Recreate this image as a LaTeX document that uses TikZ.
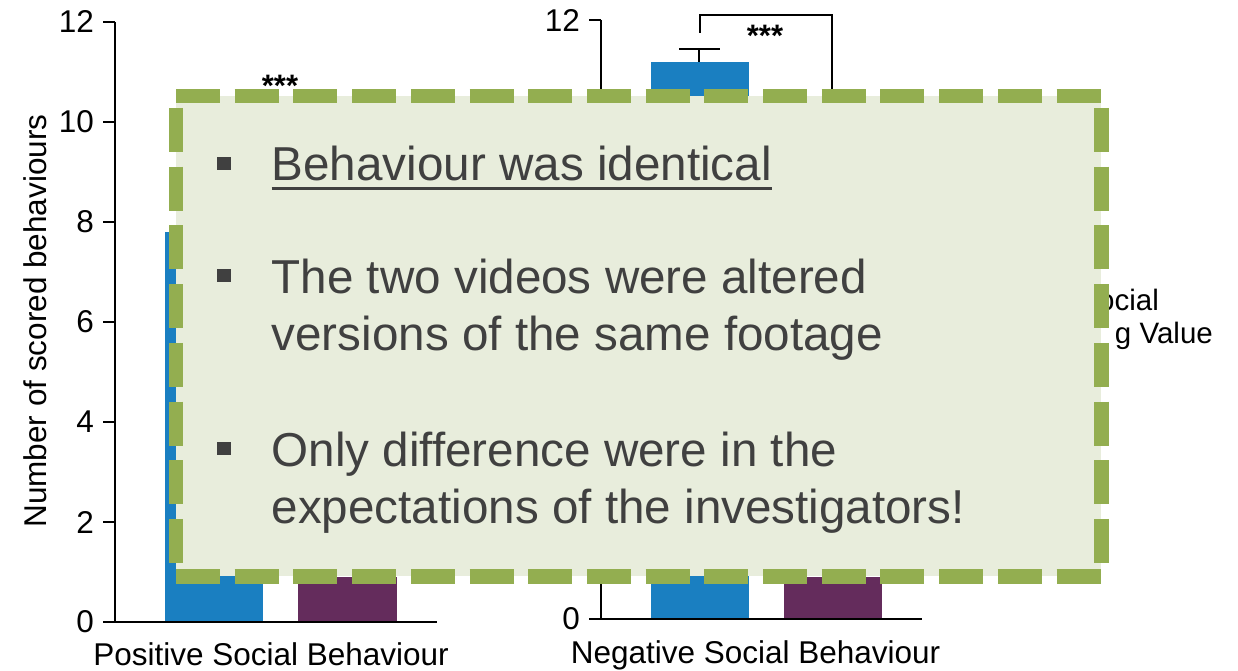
\documentclass[tikz,border=0pt]{standalone}
\usepackage{fontspec}
\setmainfont{Liberation Sans}
\definecolor{barblue}{HTML}{1A7FC1}
\definecolor{barpurple}{HTML}{642C5C}
\definecolor{dashgreen}{HTML}{93AE50}
\definecolor{boxfill}{HTML}{E8EDDC}
\definecolor{txtgray}{HTML}{404040}
\tikzset{
  axisline/.style={line width=2.2pt, black},
  baseaxis/.style={line width=2.8pt, black},
  ticklabel/.style={anchor=east, inner sep=0pt, font=\fontsize{31.5}{38}\selectfont},
  catlabel/.style={anchor=base, inner sep=0pt, font=\fontsize{31.5}{38}\selectfont},
  starlabel/.style={anchor=base, inner sep=0pt, font=\bfseries\fontsize{31}{36}\selectfont},
  legendtext/.style={anchor=base east, inner sep=0pt, font=\fontsize{29.5}{34}\selectfont},
  greenedge/.style={draw=dashgreen, line width=14.5pt, line cap=butt, dash pattern=on 44pt off 14.7pt},
  sideedge/.style={greenedge, dash phase=46.7pt},
  boxtext/.style={anchor=base west, inner sep=0pt, text=txtgray, font=\fontsize{47.6}{57}\selectfont},
  bulletsq/.style={fill=txtgray, minimum width=13.5pt, minimum height=13.5pt, inner sep=0pt}
}
\begin{document}
\begin{tikzpicture}[x=1pt,y=-1pt]
\useasboundingbox (0,0) rectangle (1238,671);
% ---------- left chart ----------
\fill[barblue] (165,622) rectangle (263,232);
\fill[barpurple] (298,622) rectangle (397,577);
\draw[axisline] (115,22) -- (115,622);
\foreach \v/\lab in {12/12,10/10,8/8,6/6,4/4,2/2}{
  \draw[axisline] (103,{622-50*\v}) -- (115,{622-50*\v});
  \node[ticklabel] at (94,{622-50*\v}) {\lab};
}
\node[ticklabel] (l0) at (94,622) {0};
\draw[baseaxis] (103,622) -- (437,622);
\node[rotate=90, inner sep=0pt, font=\fontsize{31.5}{38}\selectfont] (ylab) at (35.5,321) {Number of scored behaviours};
\node[catlabel] (poscat) at (271,665) {Positive Social Behaviour};
\node[starlabel] (starL) at (280,97) {***};
% ---------- right chart ----------
\fill[barblue] (651,619) rectangle (749,62);
\fill[barpurple] (784,619) rectangle (882,577);
\draw[axisline] (601,20) -- (601,619);
\draw[axisline] (589,20) -- (601,20);
\node[ticklabel] (r12) at (580,21) {12};
\node[ticklabel] (r0) at (580,619) {0};
\draw[baseaxis] (589,619) -- (922,619);
\draw[axisline] (699,62) -- (699,49);
\draw[axisline] (679,49) -- (720,49);
\coordinate (brA) at (700,33);
\coordinate (brB) at (832,100);
\draw[axisline] (brA) -- (brA |- 0,15) -- (brB |- 0,15) -- (brB);
\node[starlabel] (starR) at (765,47) {***};
\node[catlabel] (negcat) at (755.5,663) {Negative Social Behaviour};
\node[legendtext] (leg1) at (1159,310) {ocial};
\node[legendtext] (leg2) at (1213,343) {g Value};
% ---------- overlay box ----------
\node[fill=boxfill, minimum width=925pt, minimum height=480pt, inner sep=0pt, anchor=north west] (box) at (176,96) {};
\draw[greenedge] (box.north west) -- (box.north east);
\draw[greenedge] (box.south west) -- (box.south east);
\draw[sideedge] (box.north west) -- (box.south west);
\draw[sideedge] (box.north east) -- (box.south east);
% bullets and text
\node[bulletsq] (b1) at (224,163.5) {};
\node[bulletsq] (b2) at (224,275.5) {};
\node[bulletsq] (b3) at (224,448.5) {};
\node[boxtext] (t1) at (271.5,180) {Behaviour was identical};
\draw[txtgray, line width=3pt] ([yshift=-8pt]t1.base west) -- ([yshift=-8pt]t1.base east);
\node[boxtext] (t2) at (271.5,293) {The two videos were altered};
\node[boxtext] (t3) at (271.5,350) {versions of the same footage};
\node[boxtext] (t4) at (271.5,466) {Only difference were in the};
\node[boxtext] (t5) at (271.5,523) {expectations of the investigators!};
\end{tikzpicture}
\end{document}
